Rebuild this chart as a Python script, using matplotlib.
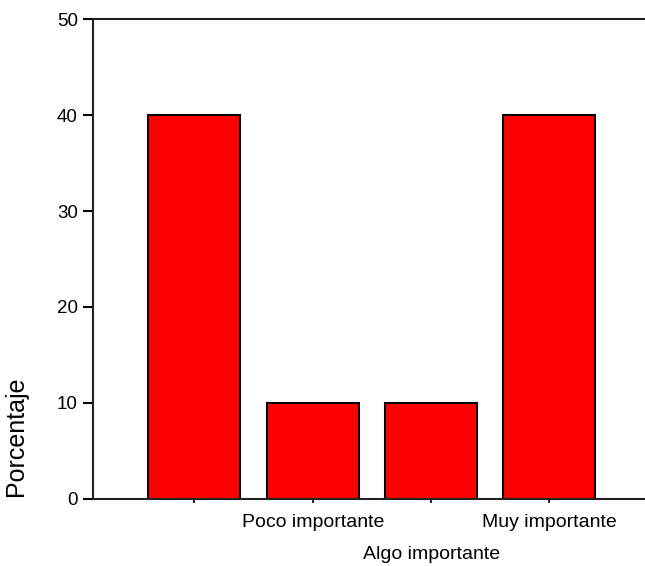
import matplotlib
matplotlib.use('Agg')
import matplotlib.pyplot as plt

plt.rcParams['font.family'] = ['Liberation Sans', 'DejaVu Sans']

# Data
categories = ['', 'Poco importante', 'Algo importante', 'Muy importante']
percentages = [40, 10, 10, 40]
y_ticks = [0, 10, 20, 30, 40, 50]

fig = plt.figure(figsize=(6.45, 5.66), dpi=100)
ax = fig.add_axes([0.1442, 0.1184, 0.8558, 0.848])

x = range(len(categories))
ax.bar(x, percentages, width=0.777, color='#ff0000', edgecolor='black', linewidth=1.5)

ax.set_xlim(-0.856, 3.807)
ax.set_ylim(0, 50)
ax.set_yticks(y_ticks)
ax.set_yticklabels([str(v) for v in y_ticks], fontsize=13.5)
ax.set_xticks(list(x))
ax.set_xticklabels(categories, fontsize=14)

# staggered x labels
for i, tick in enumerate(ax.xaxis.get_major_ticks()):
    tick.set_pad(7.5 if i % 2 == 1 else 31)

ax.tick_params(axis='y', direction='out', length=7, width=1.5, pad=4)
ax.tick_params(axis='x', direction='out', length=3, width=1.2)

ax.set_ylabel('Porcentaje', fontsize=18)
ax.yaxis.set_label_coords(-0.118, 0.13)

for side in ['left', 'bottom', 'top']:
    ax.spines[side].set_linewidth(1.5)
    ax.spines[side].set_color('#222222')
ax.spines['right'].set_visible(False)

fig.savefig('out.png', dpi=100)
